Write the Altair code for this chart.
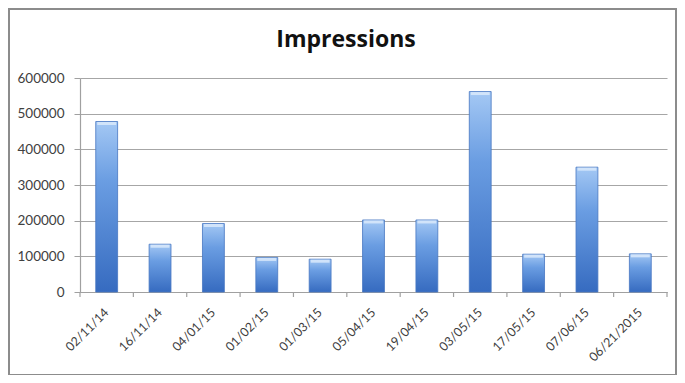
import altair as alt
import pandas as pd

dates = ["02/11/14", "16/11/14", "04/01/15", "01/02/15", "01/03/15", "05/04/15",
         "19/04/15", "03/05/15", "17/05/15", "07/06/15", "06/21/2015"]
impressions = [478000, 134000, 192000, 97000, 92000, 202000,
               202000, 562000, 106000, 350000, 107000]
y_ticks = [0, 100000, 200000, 300000, 400000, 500000, 600000]
chart_title = "Impressions"

df = pd.DataFrame({"date": dates, "impressions": impressions})

W, H = 587, 214
step = W / len(dates)

xscale = alt.Scale(domain=dates, paddingInner=0.59, paddingOuter=0.295)
yscale = alt.Scale(domain=[0, 600000])

xaxis = alt.Axis(labelAngle=-45, labelAlign="right", labelBaseline="middle",
                 ticks=False, labelPadding=18, labelFont="Lato", labelFontSize=12.5,
                 labelColor="#404040", domainColor="#a0a0a0", domainWidth=1.2,
                 labelOverlap=False, grid=False)
yaxis = alt.Axis(values=y_ticks, format="d", labelFont="Lato", labelFontSize=13.5,
                 labelColor="#404040", tickColor="#a0a0a0", tickSize=6,
                 labelPadding=10, labelOverlap=False, labelFlush=False,
                 domainColor="#a0a0a0", domainWidth=1.2,
                 gridColor="#a6a6a6", gridWidth=1.2)

X = alt.X("date:N", scale=xscale, sort=dates, title=None, axis=xaxis)
Y = alt.Y("impressions:Q", scale=yscale, title=None, axis=yaxis)

bars = alt.Chart(df).mark_bar(
    color=alt.Gradient(
        gradient="linear",
        stops=[alt.GradientStop(color="#a4c8f4", offset=0),
               alt.GradientStop(color="#6a9de2", offset=0.35),
               alt.GradientStop(color="#366bc0", offset=1)],
        x1=0, x2=0, y1=0, y2=1),
    stroke="#4676c2", strokeWidth=0.8,
).encode(x=X, y=Y)

# highlight cap on top of each bar
caps = alt.Chart(df).mark_tick(
    color="#d6e7fb", thickness=3, size=step * 0.41 - 3, opacity=0.9, yOffset=2
).encode(x=X, y=Y)

xticks = alt.Chart(df).mark_rule(color="#a0a0a0", strokeWidth=1.2, xOffset=-step / 2).encode(
    x=X, y=alt.value(H), y2=alt.value(H + 5),
)
endtick = alt.Chart(df.head(1)).mark_rule(color="#a0a0a0", strokeWidth=1.2).encode(
    x=alt.value(W), y=alt.value(H), y2=alt.value(H + 5),
)
border = alt.Chart(df.head(1)).mark_rect(
    fill=None, stroke="#8c8c8c", strokeWidth=2, clip=False
).encode(
    x=alt.value(-71), x2=alt.value(W + 9),
    y=alt.value(-69), y2=alt.value(H + 83),
)
title = alt.Chart(df.head(1)).mark_text(
    text=chart_title, font="Open Sans", fontSize=23, fontWeight="bold",
    color="#111111", align="center", baseline="alphabetic", clip=False
).encode(x=alt.value(266), y=alt.value(-31))

chart = alt.layer(border, title, bars, caps, xticks, endtick).properties(
    width=W, height=H,
    autosize=alt.AutoSizeParams(type="none"),
    padding={"left": 72, "top": 70, "right": 10, "bottom": 83},
    background="white",
).configure_view(stroke=None)

chart.save("out.html", embed_options={"renderer": "svg", "actions": False})
